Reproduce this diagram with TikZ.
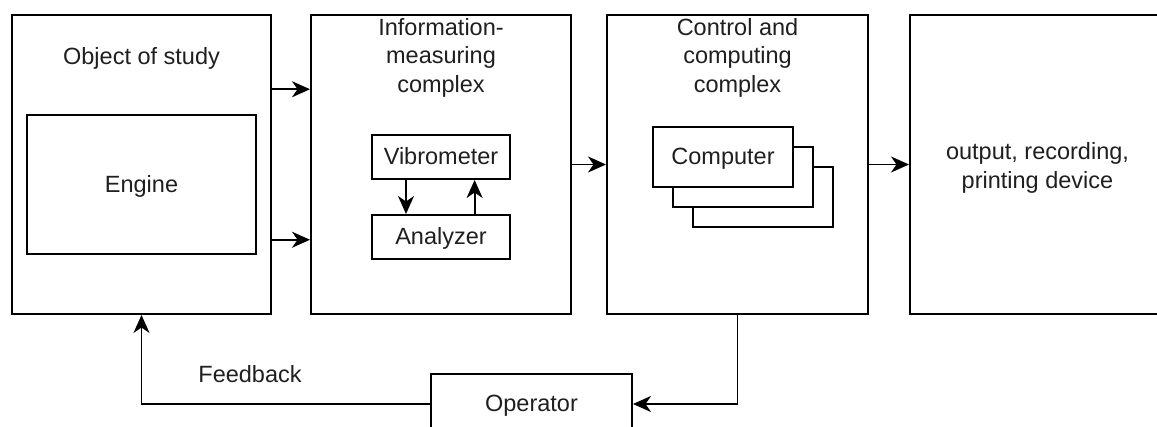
\documentclass[tikz,border=0pt]{standalone}
\usepackage{fontspec}
\setmainfont{Liberation Sans}
\usetikzlibrary{arrows.meta,calc}

\tikzset{
  blk/.style={draw=black, line width=2pt, fill=white, rectangle, inner sep=0pt},
  lbl/.style={text=black!88, font=\fontsize{23.5}{28.5}\selectfont, inner sep=0pt, align=center},
  mid/.style={lbl, text height=16pt, text depth=0pt},
  arr/.style={draw=black, line width=1.9pt, -{Stealth[length=18pt,width=16pt,inset=5.5pt]}},
}

\begin{document}
\begin{tikzpicture}[x=1pt,y=-1pt]
\useasboundingbox (0,0) rectangle (1157,427);
\clip (0,0) rectangle (1157,427);

% main blocks
\node[blk, minimum width=259pt, minimum height=299pt] (obj) at (141.5,164.5) {};
\node[blk, minimum width=260pt, minimum height=299pt] (imc) at (441,164.5) {};
\node[blk, minimum width=261pt, minimum height=299pt] (ccc) at (737.5,164.5) {};
\node[blk, minimum width=255pt, minimum height=299pt] (out) at (1037.5,164.5) {};

% block titles
\node[lbl, anchor=base] (objT) at (141.5,65) {Object of study};
\node[lbl, anchor=north] (imcT) at (441,18) {Information-\\measuring\\complex};
\node[lbl, anchor=north] (cccT) at (737.5,18) {Control and\\computing\\complex};
\node[lbl] (outT) at (1037.5,168) {output, recording,\\printing device};

% inner blocks
\node[blk, mid, minimum width=229pt, minimum height=139pt] (eng) at (141.5,184.5) {Engine};
\node[blk, mid, minimum width=138pt, minimum height=44pt] (vib) at (441,157) {Vibrometer};
\node[blk, mid, minimum width=138pt, minimum height=44pt] (ana) at (441,237) {Analyzer};

% stacked computers
\node[blk, minimum width=140pt, minimum height=60pt] (pc3) at (763,197) {};
\node[blk, minimum width=140pt, minimum height=60pt] (pc2) at (743,177) {};
\node[blk, mid, minimum width=140pt, minimum height=60pt] (pc1) at (723,157) {Computer};

% operator
\node[blk, mid, minimum width=201pt, minimum height=60pt] (op) at (531.5,404) {Operator};
\node[lbl, anchor=base] (fb) at (250,383) {Feedback};

% signal flow
\draw[arr] ($(obj.north east)!.25!(obj.south east)$) -- ($(imc.north west)!.25!(imc.south west)$);
\draw[arr] ($(obj.north east)!.75!(obj.south east)$) -- ($(imc.north west)!.75!(imc.south west)$);
\draw[arr] (imc.east) -- (ccc.west);
\draw[arr] (ccc.east) -- (out.west);
\draw[arr] ($(vib.south west)!.25!(vib.south east)$) -- ($(ana.north west)!.25!(ana.north east)$);
\draw[arr] ($(ana.north west)!.74!(ana.north east)$) -- ($(vib.south west)!.74!(vib.south east)$);
\draw[arr] (ccc.south) |- (op.east);
\draw[arr] (op.west) -| (obj.south);
\end{tikzpicture}
\end{document}
